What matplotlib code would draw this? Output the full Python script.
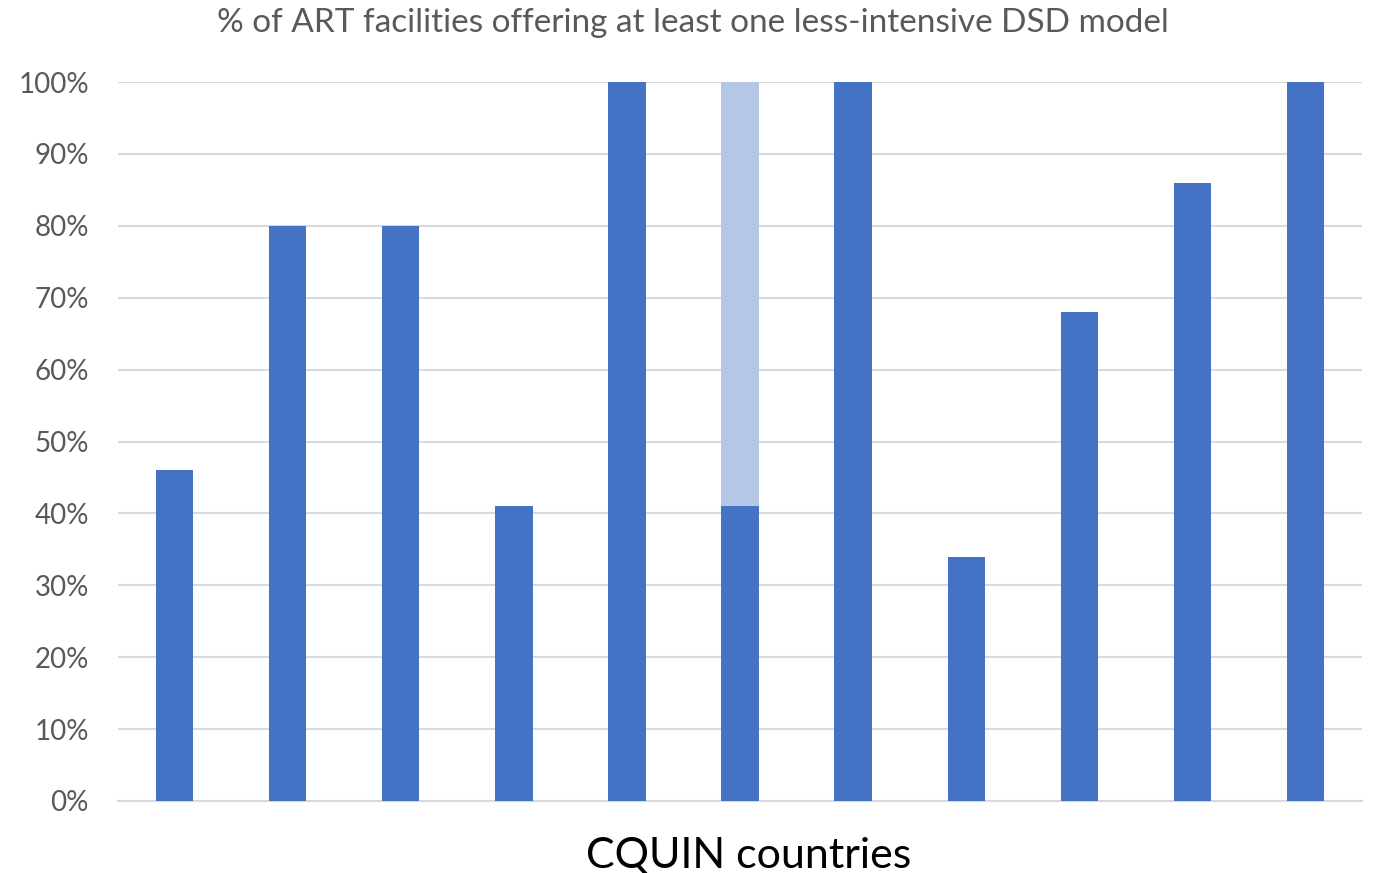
import matplotlib.pyplot as plt
import numpy as np

plt.rcParams['font.family'] = ['Lato', 'DejaVu Sans']

countries = ['1', '2', '3', '4', '5', '6', '7', '8', '9', '10', '11']
offering = [46, 80, 80, 41, 100, 41, 100, 34, 68, 86, 100]
extra = [0, 0, 0, 0, 0, 59, 0, 0, 0, 0, 0]
yticks = [0, 10, 20, 30, 40, 50, 60, 70, 80, 90, 100]

fig = plt.figure(figsize=(13.73, 8.73), dpi=100)
ax = fig.add_axes([0.086, 0.0825, 0.906, 0.8235])

x = np.arange(len(countries))
width = 0.33
ax.bar(x, offering, width, color='#4472C4', zorder=3)
ax.bar(x, extra, width, bottom=offering, color='#B4C7E7', zorder=3)

ax.set_xlim(-0.5, len(countries) - 0.5)
ax.set_ylim(0, 100)
ax.set_yticks(yticks)
ax.set_yticklabels([f'{v}%' for v in yticks], color='#595959', fontsize=20)
ax.tick_params(axis='y', length=0, pad=21)
ax.set_xticks([])
ax.grid(axis='y', color='#D9D9D9', linewidth=1.5, zorder=0)
for s in ['top', 'right', 'left']:
    ax.spines[s].set_visible(False)
ax.spines['bottom'].set_color('#D9D9D9')
ax.spines['bottom'].set_linewidth(1.5)

ax.set_xlabel('CQUIN countries', fontsize=31, color='black')
ax.xaxis.set_label_coords(0.507, -0.05, transform=ax.transAxes)
ax.xaxis.label.set_va('top')
fig.text(0.505, 0.974, '% of ART facilities offering at least one less-intensive DSD model',
         ha='center', va='center', fontsize=24, color='#595959')

fig.savefig('out.png', dpi=100)
